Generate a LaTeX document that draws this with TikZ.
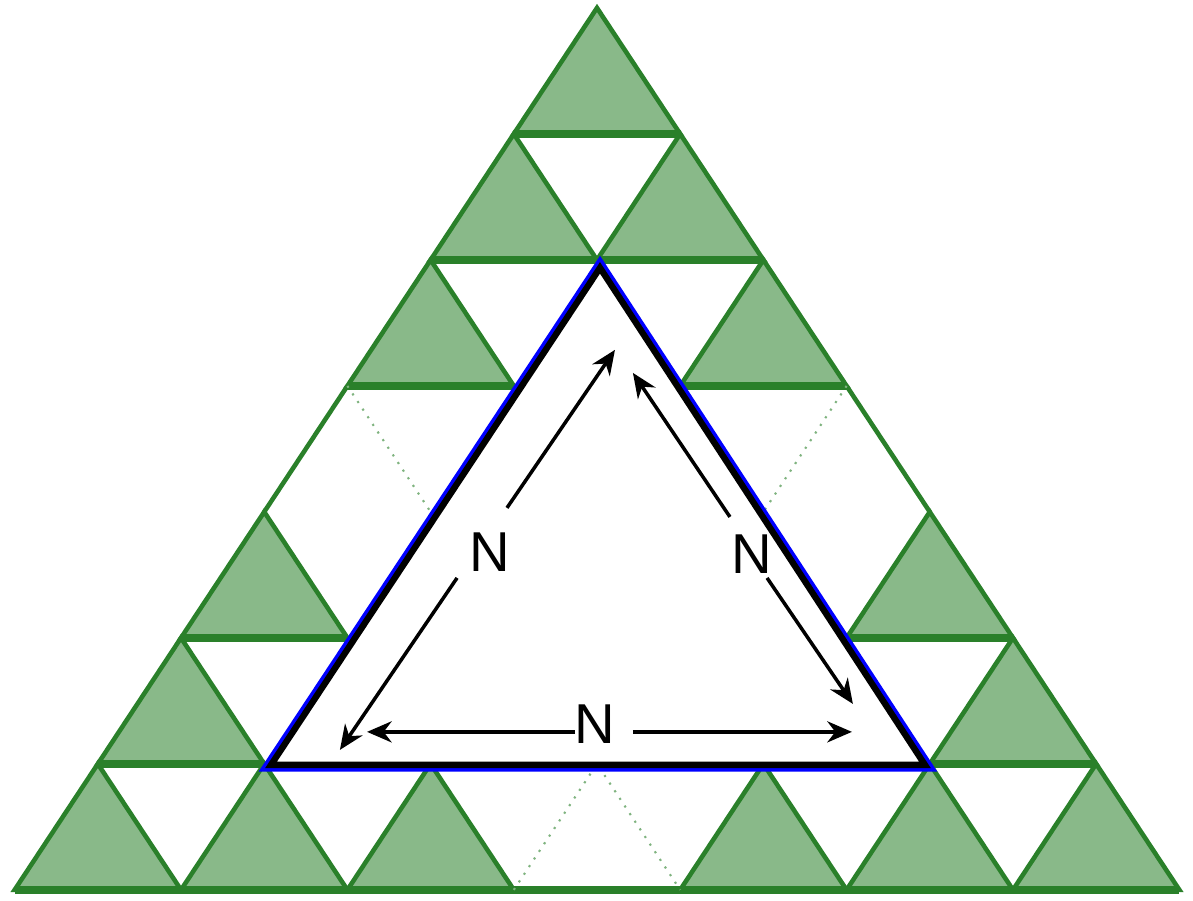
\documentclass[tikz,border=0pt]{standalone}
\usepackage{fontspec}
\setmainfont{Liberation Sans}
\usetikzlibrary{arrows.meta}
\definecolor{gfill}{RGB}{137,185,137}
\definecolor{gline}{RGB}{42,128,42}
\tikzset{
    gtri/.style={fill=gfill, draw=gline, line width=1.3pt},
    gedge/.style={draw=gline, line width=1.3pt},
    gbase/.style={draw=gline, line width=2.4pt},
    gdot/.style={draw=gline!60, line width=0.6pt, dotted},
    arr/.style={-{Stealth[length=7pt,width=6pt]}, line width=1pt},
    lbl/.style={font=\fontsize{16}{19}\selectfont, inner sep=0pt},
}
\begin{document}
\begin{tikzpicture}[x=1.664cm, y=1.26cm]
    \useasboundingbox (-3.588,0.063) rectangle (3.582,-7.087);
    % Green triangles of the lattice
    \foreach \x/\y in {0/0, -0.5/-1, 0.5/-1, -1/-2, 1/-2, -2/-4, 2/-4,
                       -2.5/-5, 2.5/-5, -3/-6, -2/-6, -1/-6, 1/-6, 2/-6, 3/-6} {
        \filldraw[gtri] (\x,\y) -- ++(-0.5,-1) -- ++(1,0) -- cycle;
        \draw[gbase] (\x-0.5,\y-1) -- ++(1,0);
    }
    % Removed triangles
    \draw[gedge] (-1.5,-3) -- (-2,-4);
    \draw[gedge] (1.5,-3) -- (2,-4);
    \draw[gbase] (-0.5,-7) -- (0.5,-7);
    \draw[gdot] (-1.5,-3) -- (-1,-4);
    \draw[gdot] (1.5,-3) -- (1,-4);
    \draw[gdot] (-0.5,-7) -- (0,-6) -- (0.5,-7);
    % Central triangle
    \coordinate (ta) at (0.018,-2.063);
    \coordinate (tl) at (-1.959,-6.008);
    \coordinate (tr) at (1.971,-6.008);
    \draw[blue, line width=3.8pt] (ta) -- (tl) -- (tr) -- cycle;
    \fill[white] (ta) -- (tl) -- (tr) -- cycle;
    \draw[line width=1.8pt] (ta) -- (tl) -- (tr) -- cycle;
    % Side lengths
    \node[lbl] (nl) at (-0.643,-4.317) {N};
    \node[lbl] (nr) at (0.931,-4.333) {N};
    \node[lbl] (nb) at (-0.012,-5.683) {N};
    \coordinate (l1) at (-0.541,-3.968);
    \coordinate (lt) at (0.108,-2.714);
    \coordinate (l2) at (-0.841,-4.524);
    \coordinate (lb) at (-1.545,-5.889);
    \coordinate (r1) at (0.799,-4.040);
    \coordinate (rt) at (0.216,-2.897);
    \coordinate (r2) at (1.022,-4.524);
    \coordinate (rb) at (1.538,-5.524);
    \coordinate (b1) at (-0.132,-5.746);
    \coordinate (bl) at (-1.382,-5.746);
    \coordinate (b2) at (0.216,-5.746);
    \coordinate (br) at (1.532,-5.746);
    \draw[arr] (l1) -- (lt);
    \draw[arr] (l2) -- (lb);
    \draw[arr] (r1) -- (rt);
    \draw[arr] (r2) -- (rb);
    \draw[arr] (b1) -- (bl);
    \draw[arr] (b2) -- (br);
\end{tikzpicture}
\end{document}
